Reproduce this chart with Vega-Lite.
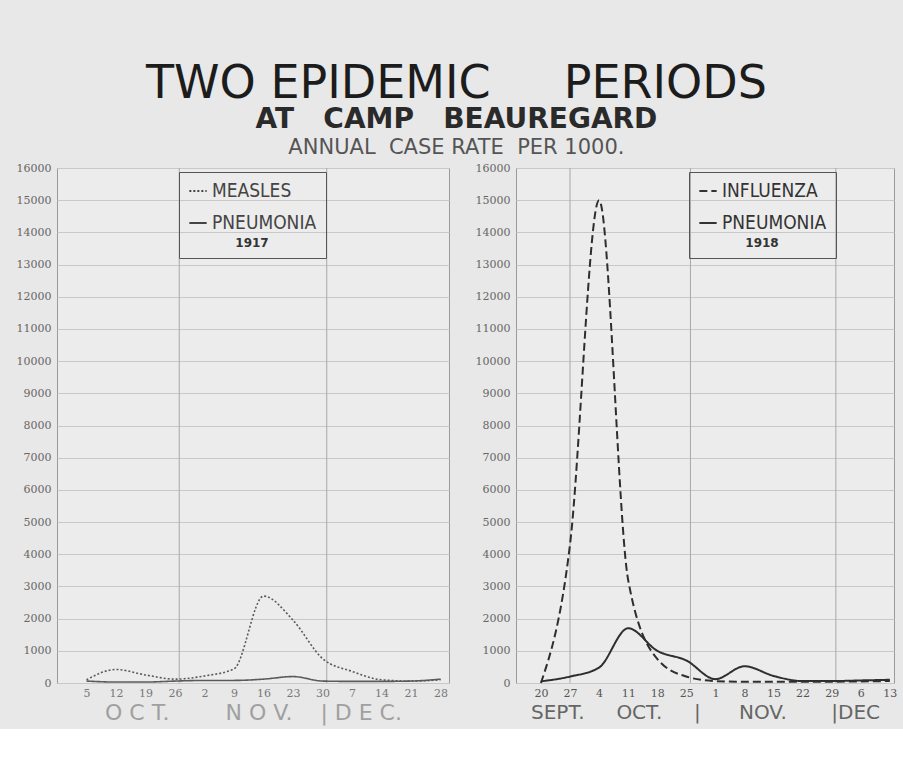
{
  "$schema": "https://vega.github.io/schema/vega-lite/v6.json",
  "background": "#e8e8e8",
  "padding": {"left": 15, "top": 60, "right": 8, "bottom": 5},
  "datasets": {
    "camp1917": [
      {"date": "1917-10-05", "disease": "MEASLES", "rate": 100},
      {"date": "1917-10-12", "disease": "MEASLES", "rate": 420},
      {"date": "1917-10-19", "disease": "MEASLES", "rate": 250},
      {"date": "1917-10-26", "disease": "MEASLES", "rate": 120},
      {"date": "1917-11-02", "disease": "MEASLES", "rate": 220},
      {"date": "1917-11-09", "disease": "MEASLES", "rate": 440},
      {"date": "1917-11-16", "disease": "MEASLES", "rate": 2700},
      {"date": "1917-11-23", "disease": "MEASLES", "rate": 1950},
      {"date": "1917-11-30", "disease": "MEASLES", "rate": 760},
      {"date": "1917-12-07", "disease": "MEASLES", "rate": 360},
      {"date": "1917-12-14", "disease": "MEASLES", "rate": 100},
      {"date": "1917-12-21", "disease": "MEASLES", "rate": 60},
      {"date": "1917-12-28", "disease": "MEASLES", "rate": 100},
      {"date": "1917-10-05", "disease": "PNEUMONIA", "rate": 60},
      {"date": "1917-10-12", "disease": "PNEUMONIA", "rate": 30},
      {"date": "1917-10-19", "disease": "PNEUMONIA", "rate": 30},
      {"date": "1917-10-26", "disease": "PNEUMONIA", "rate": 60},
      {"date": "1917-11-02", "disease": "PNEUMONIA", "rate": 80},
      {"date": "1917-11-09", "disease": "PNEUMONIA", "rate": 80},
      {"date": "1917-11-16", "disease": "PNEUMONIA", "rate": 120},
      {"date": "1917-11-23", "disease": "PNEUMONIA", "rate": 200},
      {"date": "1917-11-30", "disease": "PNEUMONIA", "rate": 60},
      {"date": "1917-12-07", "disease": "PNEUMONIA", "rate": 50},
      {"date": "1917-12-14", "disease": "PNEUMONIA", "rate": 50},
      {"date": "1917-12-21", "disease": "PNEUMONIA", "rate": 60},
      {"date": "1917-12-28", "disease": "PNEUMONIA", "rate": 120}
    ],
    "camp1918": [
      {"date": "1918-09-20", "disease": "INFLUENZA", "rate": 0},
      {"date": "1918-09-27", "disease": "INFLUENZA", "rate": 4300},
      {"date": "1918-10-04", "disease": "INFLUENZA", "rate": 15000},
      {"date": "1918-10-11", "disease": "INFLUENZA", "rate": 3200},
      {"date": "1918-10-18", "disease": "INFLUENZA", "rate": 750},
      {"date": "1918-10-25", "disease": "INFLUENZA", "rate": 200},
      {"date": "1918-11-01", "disease": "INFLUENZA", "rate": 60},
      {"date": "1918-11-08", "disease": "INFLUENZA", "rate": 40},
      {"date": "1918-11-15", "disease": "INFLUENZA", "rate": 40},
      {"date": "1918-11-22", "disease": "INFLUENZA", "rate": 40},
      {"date": "1918-11-29", "disease": "INFLUENZA", "rate": 40},
      {"date": "1918-12-06", "disease": "INFLUENZA", "rate": 50},
      {"date": "1918-12-13", "disease": "INFLUENZA", "rate": 60},
      {"date": "1918-09-20", "disease": "PNEUMONIA", "rate": 50},
      {"date": "1918-09-27", "disease": "PNEUMONIA", "rate": 200},
      {"date": "1918-10-04", "disease": "PNEUMONIA", "rate": 480},
      {"date": "1918-10-11", "disease": "PNEUMONIA", "rate": 1700},
      {"date": "1918-10-18", "disease": "PNEUMONIA", "rate": 1000},
      {"date": "1918-10-25", "disease": "PNEUMONIA", "rate": 700},
      {"date": "1918-11-01", "disease": "PNEUMONIA", "rate": 120},
      {"date": "1918-11-08", "disease": "PNEUMONIA", "rate": 520},
      {"date": "1918-11-15", "disease": "PNEUMONIA", "rate": 220},
      {"date": "1918-11-22", "disease": "PNEUMONIA", "rate": 60},
      {"date": "1918-11-29", "disease": "PNEUMONIA", "rate": 60},
      {"date": "1918-12-06", "disease": "PNEUMONIA", "rate": 80},
      {"date": "1918-12-13", "disease": "PNEUMONIA", "rate": 100}
    ],
    "months1917": [
      {"date": "1917-10-27"},
      {"date": "1917-12-01"}
    ],
    "months1918": [
      {"date": "1918-09-27"},
      {"date": "1918-10-26"},
      {"date": "1918-11-30"}
    ]
  },
  "title": {
    "text": "TWO\u00a0EPIDEMIC\u00a0\u00a0\u00a0\u00a0\u00a0PERIODS",
    "font": "DejaVu Sans",
    "fontSize": 46,
    "fontWeight": "normal",
    "color": "#1c1c1c",
    "anchor": "middle",
    "offset": -2
  },
  "vconcat": [
    {
      "title": {
        "text": "AT\u00a0\u00a0\u00a0CAMP\u00a0\u00a0\u00a0BEAUREGARD",
        "subtitle": "ANNUAL\u00a0\u00a0CASE\u00a0RATE\u00a0\u00a0PER 1000.",
        "font": "DejaVu Sans",
        "fontSize": 28,
        "fontWeight": "bold",
        "color": "#2a2a2a",
        "subtitleFont": "DejaVu Sans",
        "subtitleFontSize": 21,
        "subtitleColor": "#555555",
        "subtitlePadding": 3,
        "anchor": "middle",
        "offset": 4
      },
      "spacing": 24,
      "resolve": {
        "scale": {"strokeDash": "independent", "x": "independent", "y": "independent"},
        "legend": {"strokeDash": "independent"}
      },
      "hconcat": [
        {
          "width": 392,
          "height": 515,
          "encoding": {
            "x": {
              "field": "date",
              "type": "temporal",
              "scale": {
                "type": "utc",
                "domain": [
                  {"year": 1917, "month": "sep", "date": 28, "utc": true},
                  {"year": 1917, "month": "dec", "date": 30, "utc": true}
                ]
              },
              "axis": {
                "values": [
                  {"year": 1917, "month": "oct", "date": 5, "utc": true},
                  {"year": 1917, "month": "oct", "date": 12, "utc": true},
                  {"year": 1917, "month": "oct", "date": 19, "utc": true},
                  {"year": 1917, "month": "oct", "date": 26, "utc": true},
                  {"year": 1917, "month": "nov", "date": 2, "utc": true},
                  {"year": 1917, "month": "nov", "date": 9, "utc": true},
                  {"year": 1917, "month": "nov", "date": 16, "utc": true},
                  {"year": 1917, "month": "nov", "date": 23, "utc": true},
                  {"year": 1917, "month": "nov", "date": 30, "utc": true},
                  {"year": 1917, "month": "dec", "date": 7, "utc": true},
                  {"year": 1917, "month": "dec", "date": 14, "utc": true},
                  {"year": 1917, "month": "dec", "date": 21, "utc": true},
                  {"year": 1917, "month": "dec", "date": 28, "utc": true}
                ],
                "format": "%-d",
                "labelFont": "DejaVu Serif",
                "labelFontSize": 11,
                "labelColor": "#777777",
                "labelPadding": 4,
                "labelOverlap": false,
                "domain": false,
                "ticks": false,
                "grid": false,
                "title": "O\u00a0C\u00a0T.\u00a0\u00a0\u00a0\u00a0\u00a0\u00a0\u00a0\u00a0N\u00a0O\u00a0V.\u00a0\u00a0\u00a0\u00a0|\u00a0D\u00a0E\u00a0C.",
                "titleFont": "DejaVu Sans",
                "titleFontSize": 22,
                "titleFontWeight": "normal",
                "titleColor": "#a0a0a0",
                "titlePadding": 4
              }
            }
          },
          "layer": [
            {
              "data": {"name": "months1917"},
              "mark": {"type": "rule", "color": "#a8a8a8", "strokeWidth": 1}
            },
            {
              "data": {"name": "camp1917"},
              "mark": {"type": "line", "interpolate": "monotone", "color": "#5a5a5a", "strokeWidth": 1.6},
              "encoding": {
                "y": {
                  "field": "rate",
                  "type": "quantitative",
                  "scale": {"domain": [0, 16000]},
                  "axis": {
                    "values": [0, 1000, 2000, 3000, 4000, 5000, 6000, 7000, 8000, 9000, 10000, 11000, 12000, 13000, 14000, 15000, 16000],
                    "format": "d",
                    "labelFont": "DejaVu Serif",
                    "labelFontSize": 11,
                    "labelColor": "#666666",
                    "labelPadding": 6,
                    "domain": false,
                    "ticks": false,
                    "grid": true,
                    "gridColor": "#c8c8c8",
                    "title": null
                  }
                },
                "strokeDash": {
                  "field": "disease",
                  "type": "nominal",
                  "scale": {"domain": ["MEASLES", "PNEUMONIA"], "range": [[2, 2], [1, 0]]},
                  "legend": {
                    "orient": "none",
                    "legendX": 122,
                    "legendY": 4,
                    "title": "1917",
                    "titleOrient": "bottom",
                    "titleAnchor": "middle",
                    "titleFont": "DejaVu Sans",
                    "titleFontSize": 12,
                    "titleFontWeight": "bold",
                    "titleColor": "#333333",
                    "labelFont": "DejaVu Sans Condensed, DejaVu Sans",
                    "labelFontSize": 19,
                    "labelColor": "#444444",
                    "symbolType": "stroke",
                    "symbolSize": 300,
                    "symbolStrokeWidth": 2,
                    "symbolStrokeColor": "#444444",
                    "strokeColor": "#555555",
                    "padding": 9,
                    "rowPadding": 12
                  }
                }
              }
            }
          ]
        },
        {
          "width": 378,
          "height": 515,
          "encoding": {
            "x": {
              "field": "date",
              "type": "temporal",
              "scale": {
                "type": "utc",
                "domain": [
                  {"year": 1918, "month": "sep", "date": 14, "utc": true},
                  {"year": 1918, "month": "dec", "date": 14, "utc": true}
                ]
              },
              "axis": {
                "values": [
                  {"year": 1918, "month": "sep", "date": 20, "utc": true},
                  {"year": 1918, "month": "sep", "date": 27, "utc": true},
                  {"year": 1918, "month": "oct", "date": 4, "utc": true},
                  {"year": 1918, "month": "oct", "date": 11, "utc": true},
                  {"year": 1918, "month": "oct", "date": 18, "utc": true},
                  {"year": 1918, "month": "oct", "date": 25, "utc": true},
                  {"year": 1918, "month": "nov", "date": 1, "utc": true},
                  {"year": 1918, "month": "nov", "date": 8, "utc": true},
                  {"year": 1918, "month": "nov", "date": 15, "utc": true},
                  {"year": 1918, "month": "nov", "date": 22, "utc": true},
                  {"year": 1918, "month": "nov", "date": 29, "utc": true},
                  {"year": 1918, "month": "dec", "date": 6, "utc": true},
                  {"year": 1918, "month": "dec", "date": 13, "utc": true}
                ],
                "format": "%-d",
                "labelFont": "DejaVu Serif",
                "labelFontSize": 11,
                "labelColor": "#555555",
                "labelPadding": 4,
                "labelOverlap": false,
                "labelBound": false,
                "domain": false,
                "ticks": false,
                "grid": false,
                "title": "SEPT.\u00a0\u00a0\u00a0\u00a0\u00a0OCT.\u00a0\u00a0\u00a0\u00a0\u00a0|\u00a0\u00a0\u00a0\u00a0\u00a0\u00a0NOV.\u00a0\u00a0\u00a0\u00a0\u00a0\u00a0\u00a0|DEC",
                "titleFont": "DejaVu Sans",
                "titleFontSize": 20,
                "titleFontWeight": "normal",
                "titleColor": "#666666",
                "titlePadding": 4
              }
            }
          },
          "layer": [
            {
              "data": {"name": "months1918"},
              "mark": {"type": "rule", "color": "#a8a8a8", "strokeWidth": 1}
            },
            {
              "data": {"name": "camp1918"},
              "mark": {"type": "line", "interpolate": "monotone", "color": "#2e2e2e", "strokeWidth": 2},
              "encoding": {
                "y": {
                  "field": "rate",
                  "type": "quantitative",
                  "scale": {"domain": [0, 16000]},
                  "axis": {
                    "values": [0, 1000, 2000, 3000, 4000, 5000, 6000, 7000, 8000, 9000, 10000, 11000, 12000, 13000, 14000, 15000, 16000],
                    "format": "d",
                    "labelFont": "DejaVu Serif",
                    "labelFontSize": 11,
                    "labelColor": "#666666",
                    "labelPadding": 6,
                    "domain": false,
                    "ticks": false,
                    "grid": true,
                    "gridColor": "#c8c8c8",
                    "title": null
                  }
                },
                "strokeDash": {
                  "field": "disease",
                  "type": "nominal",
                  "scale": {"domain": ["INFLUENZA", "PNEUMONIA"], "range": [[8, 4], [1, 0]]},
                  "legend": {
                    "orient": "none",
                    "legendX": 173,
                    "legendY": 4,
                    "title": "1918",
                    "titleOrient": "bottom",
                    "titleAnchor": "middle",
                    "titleFont": "DejaVu Sans",
                    "titleFontSize": 12,
                    "titleFontWeight": "bold",
                    "titleColor": "#333333",
                    "labelFont": "DejaVu Sans Condensed, DejaVu Sans",
                    "labelFontSize": 19,
                    "labelColor": "#333333",
                    "symbolType": "stroke",
                    "symbolSize": 300,
                    "symbolStrokeWidth": 2,
                    "symbolStrokeColor": "#333333",
                    "strokeColor": "#555555",
                    "padding": 9,
                    "rowPadding": 12
                  }
                }
              }
            }
          ]
        }
      ]
    }
  ],
  "config": {
    "view": {"stroke": "#9a9a9a", "fill": "#ececec"},
    "concat": {"spacing": 0}
  }
}
